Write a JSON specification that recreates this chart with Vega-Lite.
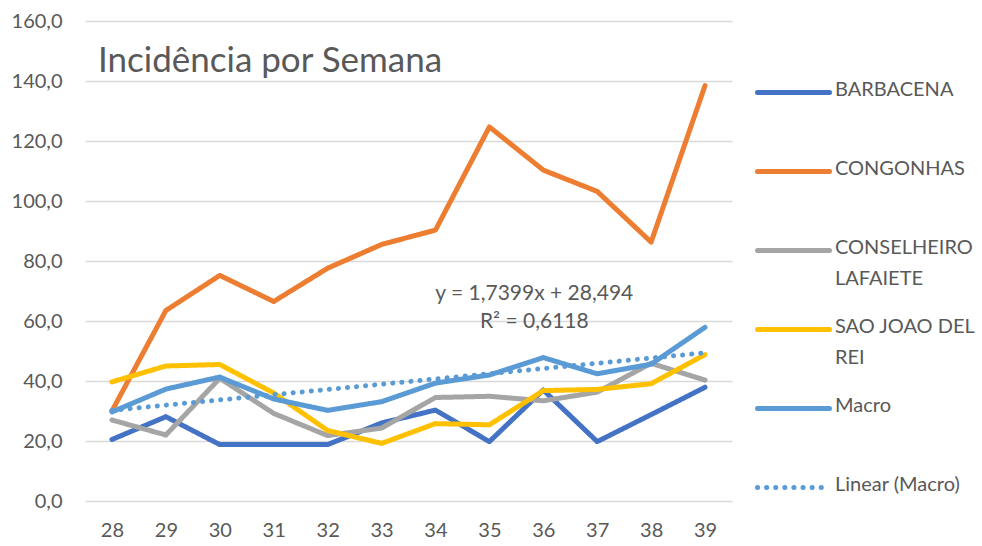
{
  "$schema": "https://vega.github.io/schema/vega-lite/v6.json",
  "width": 647,
  "height": 480,
  "autosize": {"type": "none"},
  "padding": {"left": 85, "top": 21, "right": 250, "bottom": 45},
  "background": "white",
  "title": {"text": "Incidência por Semana", "anchor": "start", "frame": "group", "orient": "top", "baseline": "alphabetic", "offset": 0, "dx": 13, "dy": 96, "font": "Lato", "fontSize": 35, "fontWeight": "normal", "color": "#595959"},
  "config": {"view": {"stroke": null}, "font": "Lato"},
  "data": {"values": [
    {"semana": 28, "serie": "BARBACENA", "valor": 20.5},
    {"semana": 29, "serie": "BARBACENA", "valor": 28.1},
    {"semana": 30, "serie": "BARBACENA", "valor": 18.8},
    {"semana": 31, "serie": "BARBACENA", "valor": 18.8},
    {"semana": 32, "serie": "BARBACENA", "valor": 18.8},
    {"semana": 33, "serie": "BARBACENA", "valor": 26.0},
    {"semana": 34, "serie": "BARBACENA", "valor": 30.3},
    {"semana": 35, "serie": "BARBACENA", "valor": 19.8},
    {"semana": 36, "serie": "BARBACENA", "valor": 37.0},
    {"semana": 37, "serie": "BARBACENA", "valor": 19.8},
    {"semana": 38, "serie": "BARBACENA", "valor": 28.8},
    {"semana": 39, "serie": "BARBACENA", "valor": 37.9},
    {"semana": 28, "serie": "CONGONHAS", "valor": 30.0},
    {"semana": 29, "serie": "CONGONHAS", "valor": 63.5},
    {"semana": 30, "serie": "CONGONHAS", "valor": 75.2},
    {"semana": 31, "serie": "CONGONHAS", "valor": 66.5},
    {"semana": 32, "serie": "CONGONHAS", "valor": 77.6},
    {"semana": 33, "serie": "CONGONHAS", "valor": 85.5},
    {"semana": 34, "serie": "CONGONHAS", "valor": 90.3},
    {"semana": 35, "serie": "CONGONHAS", "valor": 124.7},
    {"semana": 36, "serie": "CONGONHAS", "valor": 110.3},
    {"semana": 37, "serie": "CONGONHAS", "valor": 103.2},
    {"semana": 38, "serie": "CONGONHAS", "valor": 86.3},
    {"semana": 39, "serie": "CONGONHAS", "valor": 138.5},
    {"semana": 28, "serie": "CONSELHEIRO LAFAIETE", "valor": 27.0},
    {"semana": 29, "serie": "CONSELHEIRO LAFAIETE", "valor": 22.0},
    {"semana": 30, "serie": "CONSELHEIRO LAFAIETE", "valor": 40.9},
    {"semana": 31, "serie": "CONSELHEIRO LAFAIETE", "valor": 29.2},
    {"semana": 32, "serie": "CONSELHEIRO LAFAIETE", "valor": 21.8},
    {"semana": 33, "serie": "CONSELHEIRO LAFAIETE", "valor": 24.3},
    {"semana": 34, "serie": "CONSELHEIRO LAFAIETE", "valor": 34.5},
    {"semana": 35, "serie": "CONSELHEIRO LAFAIETE", "valor": 34.9},
    {"semana": 36, "serie": "CONSELHEIRO LAFAIETE", "valor": 33.4},
    {"semana": 37, "serie": "CONSELHEIRO LAFAIETE", "valor": 36.3},
    {"semana": 38, "serie": "CONSELHEIRO LAFAIETE", "valor": 45.9},
    {"semana": 39, "serie": "CONSELHEIRO LAFAIETE", "valor": 40.3},
    {"semana": 28, "serie": "SAO JOAO DEL REI", "valor": 39.7},
    {"semana": 29, "serie": "SAO JOAO DEL REI", "valor": 45.0},
    {"semana": 30, "serie": "SAO JOAO DEL REI", "valor": 45.5},
    {"semana": 31, "serie": "SAO JOAO DEL REI", "valor": 36.0},
    {"semana": 32, "serie": "SAO JOAO DEL REI", "valor": 23.5},
    {"semana": 33, "serie": "SAO JOAO DEL REI", "valor": 19.2},
    {"semana": 34, "serie": "SAO JOAO DEL REI", "valor": 25.8},
    {"semana": 35, "serie": "SAO JOAO DEL REI", "valor": 25.4},
    {"semana": 36, "serie": "SAO JOAO DEL REI", "valor": 36.8},
    {"semana": 37, "serie": "SAO JOAO DEL REI", "valor": 37.2},
    {"semana": 38, "serie": "SAO JOAO DEL REI", "valor": 39.1},
    {"semana": 39, "serie": "SAO JOAO DEL REI", "valor": 48.8},
    {"semana": 28, "serie": "Macro", "valor": 29.7},
    {"semana": 29, "serie": "Macro", "valor": 37.3},
    {"semana": 30, "serie": "Macro", "valor": 41.3},
    {"semana": 31, "serie": "Macro", "valor": 34.0},
    {"semana": 32, "serie": "Macro", "valor": 30.2},
    {"semana": 33, "serie": "Macro", "valor": 33.1},
    {"semana": 34, "serie": "Macro", "valor": 39.3},
    {"semana": 35, "serie": "Macro", "valor": 42.0},
    {"semana": 36, "serie": "Macro", "valor": 47.8},
    {"semana": 37, "serie": "Macro", "valor": 42.4},
    {"semana": 38, "serie": "Macro", "valor": 45.6},
    {"semana": 39, "serie": "Macro", "valor": 57.9},
    {"semana": 28, "serie": "Linear (Macro)", "valor": 30.2},
    {"semana": 39, "serie": "Linear (Macro)", "valor": 49.4}
  ]},
  "layer": [
    {
      "mark": {"type": "line", "strokeCap": "round", "strokeJoin": "round"},
      "encoding": {
        "x": {"field": "semana", "type": "ordinal", "scale": {"type": "point", "padding": 0.5},
          "axis": {"title": null, "domain": false, "ticks": false, "grid": false, "labelAngle": 0, "labelFont": "Lato", "labelFontSize": 20, "labelColor": "#595959", "labelPadding": 19}},
        "y": {"field": "valor", "type": "quantitative", "scale": {"domain": [0, 160], "nice": false},
          "axis": {"title": null, "domain": false, "ticks": false, "values": [0, 20, 40, 60, 80, 100, 120, 140, 160], "labelExpr": "replace(format(datum.value, '.1f'), '.', ',')", "labelFont": "Lato", "labelFontSize": 20, "labelColor": "#595959", "labelPadding": 23, "gridColor": "#D9D9D9", "gridWidth": 1.5}},
        "color": {"field": "serie", "type": "nominal",
          "scale": {"domain": ["BARBACENA", "CONGONHAS", "CONSELHEIRO LAFAIETE", "SAO JOAO DEL REI", "Macro", "Linear (Macro)"], "range": ["#4472C4", "#ED7D31", "#A5A5A5", "#FFC000", "#5B9BD5", "#5B9BD5"]},
          "legend": {"title": null, "orient": "none", "legendX": 670, "legendY": 32, "symbolType": "stroke", "symbolSize": 5184, "symbolStrokeWidth": 5, "clipHeight": 79, "rowPadding": 0, "labelFont": "Lato", "labelFontSize": 20, "labelColor": "#595959", "labelLimit": 250, "labelOffset": 3, "labelBaseline": "top",
            "labelExpr": "datum.label == 'CONSELHEIRO LAFAIETE' ? ['CONSELHEIRO', 'LAFAIETE'] : datum.label == 'SAO JOAO DEL REI' ? ['SAO JOAO DEL', 'REI'] : datum.label",
            "encode": {"symbols": {"update": {"strokeCap": {"value": "round"}}}, "labels": {"update": {"dy": {"value": -13}, "lineHeight": {"value": 31}}}}}},
        "strokeDash": {"field": "serie", "type": "nominal",
          "scale": {"domain": ["BARBACENA", "CONGONHAS", "CONSELHEIRO LAFAIETE", "SAO JOAO DEL REI", "Macro", "Linear (Macro)"], "range": [[1, 0], [1, 0], [1, 0], [1, 0], [1, 0], [0.1, 9]]},
          "legend": {"title": null}},
        "strokeWidth": {"field": "serie", "type": "nominal",
          "scale": {"domain": ["BARBACENA", "CONGONHAS", "CONSELHEIRO LAFAIETE", "SAO JOAO DEL REI", "Macro", "Linear (Macro)"], "range": [5, 5, 5, 5, 5, 4]},
          "legend": null}
      }
    },
    {
      "data": {"values": [{"semana": 36, "valor": 69, "rotulo": "y = 1,7399x + 28,494\nR² = 0,6118"}]},
      "mark": {"type": "text", "lineBreak": "\n", "lineHeight": 28, "font": "Lato", "fontSize": 21, "color": "#595959", "align": "center", "baseline": "middle", "dx": -9},
      "encoding": {
        "x": {"field": "semana", "type": "ordinal"},
        "y": {"field": "valor", "type": "quantitative"},
        "text": {"field": "rotulo"}
      }
    }
  ]
}
